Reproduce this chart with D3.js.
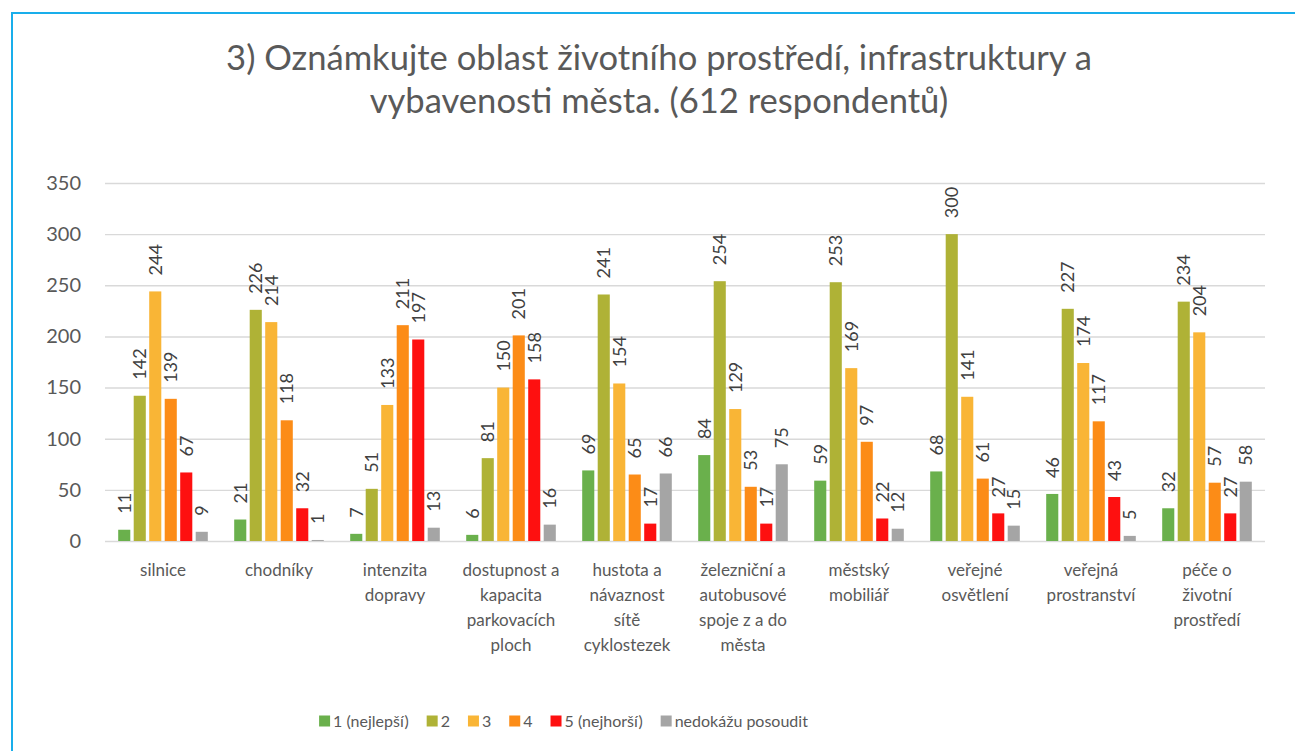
<!DOCTYPE html>
<html>
<head>
<meta charset="utf-8">
<script src="https://cdn.jsdelivr.net/npm/d3@7/dist/d3.min.js"></script>
<style>
  html, body { margin: 0; padding: 0; background: #fff; }
  svg { display: block; font-family: Lato, "Open Sans", sans-serif; }
</style>
</head>
<body>
<svg id="chart" width="1295" height="751"></svg>
<script>
// Survey: ratings of environment, infrastructure and city amenities
const titleLines = ["3) Oznámkujte oblast životního prostředí, infrastruktury a",
                    "vybavenosti města. (612 respondentů)"];

const categories = [
  ["silnice"],
  ["chodníky"],
  ["intenzita", "dopravy"],
  ["dostupnost a", "kapacita", "parkovacích", "ploch"],
  ["hustota a", "návaznost", "sítě", "cyklostezek"],
  ["železniční a", "autobusové", "spoje z a do", "města"],
  ["městský", "mobiliář"],
  ["veřejné", "osvětlení"],
  ["veřejná", "prostranství"],
  ["péče o", "životní", "prostředí"]
];

const seriesNames = ["1 (nejlepší)", "2", "3", "4", "5 (nejhorší)", "nedokážu posoudit"];
const seriesColors = ["#6AB04C", "#AFB236", "#F9B536", "#FC8C17", "#FE1010", "#A5A5A5"];

// one array per series, one value per category
const grade1 = [11, 21, 7, 6, 69, 84, 59, 68, 46, 32];
const grade2 = [142, 226, 51, 81, 241, 254, 253, 300, 227, 234];
const grade3 = [244, 214, 133, 150, 154, 129, 169, 141, 174, 204];
const grade4 = [139, 118, 211, 201, 65, 53, 97, 61, 117, 57];
const grade5 = [67, 32, 197, 158, 17, 17, 22, 27, 43, 27];
const noOpinion = [9, 1, 13, 16, 66, 75, 12, 15, 5, 58];

const yTicks = [0, 50, 100, 150, 200, 250, 300, 350];

const series = [grade1, grade2, grade3, grade4, grade5, noOpinion];

const svg = d3.select("#chart");
const W = 1295, H = 751;
const textColor = "#595959";

// outer frame
svg.append("rect")
  .attr("x", 12).attr("y", 13)
  .attr("width", W + 10).attr("height", H + 10)
  .attr("fill", "none").attr("stroke", "#19AEEB").attr("stroke-width", 2);

// title
svg.append("g").selectAll("text").data(titleLines).join("text")
  .attr("x", 659).attr("y", (d, i) => 70 + i * 43)
  .attr("text-anchor", "middle")
  .attr("fill", textColor)
  .attr("font-size", 34.6)
  .text(d => d);

const plot = { left: 105, right: 1265, top: 183, bottom: 541 };

const y = d3.scaleLinear().domain([0, 350]).range([plot.bottom, plot.top]);
const x0 = d3.scaleBand().domain(d3.range(categories.length))
  .range([plot.left, plot.right]).paddingInner(0).paddingOuter(0);
const x1 = d3.scaleBand().domain(d3.range(series.length))
  .range([13.2, x0.bandwidth() - 13.2]).paddingInner(0.22).paddingOuter(0);

// gridlines and value axis
const yAxis = d3.axisLeft(y).tickValues(yTicks).tickSize(-(plot.right - plot.left)).tickPadding(24);
const gy = svg.append("g").attr("transform", `translate(${plot.left},0)`).call(yAxis);
gy.select(".domain").remove();
gy.selectAll(".tick line").attr("stroke", "#D9D9D9").attr("stroke-width", 1.4);
gy.selectAll(".tick text").attr("fill", textColor).attr("font-size", 20)
  .attr("font-family", "Lato, 'Open Sans', sans-serif");

// bars with rotated value labels
const groups = svg.append("g").selectAll("g").data(categories).join("g")
  .attr("transform", (d, i) => `translate(${x0(i)},0)`);

groups.each(function(cat, ci) {
  const g = d3.select(this);
  series.forEach((vals, si) => {
    const v = vals[ci];
    g.append("rect")
      .attr("x", x1(si)).attr("width", x1.bandwidth())
      .attr("y", y(v)).attr("height", y(0) - y(v))
      .attr("fill", seriesColors[si]);
    const cx = x1(si) + x1.bandwidth() / 2;
    const ty = y(v) - 16;
    g.append("text")
      .attr("transform", `translate(${cx + 6.5},${ty}) rotate(-90)`)
      .attr("fill", "#404040").attr("font-size", 18)
      .text(v);
  });
});

// category labels
const catG = svg.append("g");
categories.forEach((lines, ci) => {
  const cx = x0(ci) + x0.bandwidth() / 2;
  catG.append("text")
    .attr("text-anchor", "middle").attr("fill", textColor).attr("font-size", 17)
    .selectAll("tspan").data(lines).join("tspan")
    .attr("x", cx).attr("y", (d, i) => 576 + i * 25)
    .text(d => d);
});

// legend
const legend = svg.append("g");
let lx = 0;
seriesNames.forEach((name, i) => {
  const it = legend.append("g");
  it.append("rect").attr("x", 0).attr("y", -5.5).attr("width", 11).attr("height", 11)
    .attr("fill", seriesColors[i]);
  const t = it.append("text").attr("x", 14).attr("y", 6)
    .attr("fill", textColor).attr("font-size", 16).text(name);
  const w = 14 + t.node().getComputedTextLength();
  it.attr("transform", `translate(${lx},0)`);
  lx += w + 18;
});
const legendW = lx - 18;
legend.attr("transform", `translate(${(318 + 809) / 2 - legendW / 2},721)`);
</script>
</body>
</html>
